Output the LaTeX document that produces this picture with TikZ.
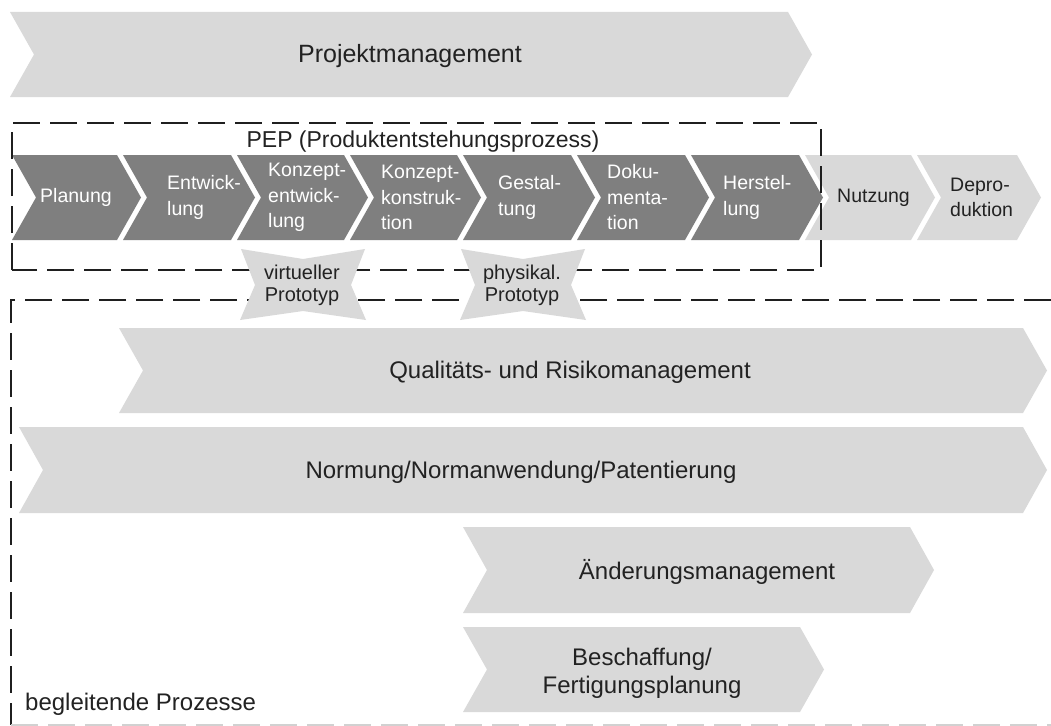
\documentclass[tikz,border=0pt]{standalone}
\usepackage{fontspec}
\setmainfont{Liberation Sans}
\definecolor{dk}{HTML}{7F7F7F}
\definecolor{lt}{HTML}{D9D9D9}
\definecolor{txt}{HTML}{222222}
\newcommand\mychev[5]{% style, left, right, top, bottom
  \fill[#1] (#2,#4) -- (#3,#4) -- ({#3+24},{(#4+#5)/2}) -- (#3,#5) -- (#2,#5) -- ({#2+24},{(#4+#5)/2}) -- cycle;}
\newcommand\myproto[1]{%
  \fill[lt] ({#1-62},249) -- (#1,259) -- ({#1+62},249) -- ({#1+48},285) -- ({#1+63},320) -- (#1,311) -- ({#1-63},320) -- ({#1-48},285) -- cycle;}
\begin{document}
\begin{tikzpicture}[x=1pt,y=-1pt,
  rowlbl/.style={font=\fontsize{19.5}{25.5}\selectfont, align=left, anchor=west, inner sep=0pt},
  dkl/.style={rowlbl, text=white},
  ltl/.style={rowlbl, text=txt},
  biglbl/.style={font=\fontsize{24}{28}\selectfont, text=txt, inner sep=0pt},
  protolbl/.style={font=\fontsize{20}{22}\selectfont, text=txt, align=center, inner sep=0pt},
  dashbox/.style={draw=black!88, line width=1.6pt, dash pattern=on 27pt off 10pt}]
\useasboundingbox (0,0) rectangle (1051,725);
\fill[white] (0,0) rectangle (1051,725);

% Projektmanagement
\mychev{lt}{10}{788}{12}{97}
\node[biglbl, font=\fontsize{25}{28}\selectfont, anchor=base] (pm) at (410,63) {Projektmanagement};

% PEP row
\mychev{dk}{12}{117}{155}{240}
\mychev{dk}{123}{231}{155}{240}
\mychev{dk}{237}{344}{155}{240}
\mychev{dk}{350}{457}{155}{240}
\mychev{dk}{463}{571}{155}{240}
\mychev{dk}{577}{685}{155}{240}
\mychev{dk}{691}{799}{155}{240}
\mychev{lt}{805}{911}{155}{240}
\mychev{lt}{917}{1017}{155}{240}

\node[dkl] (p1) at (40,197.5) {Planung};
\node[dkl] (p2) at (167,197.5) {Entwick-\\lung};
\node[dkl] (p3) at (268,197.5) {Konzept-\\entwick-\\lung};
\node[dkl] (p4) at (381,197.5) {Konzept-\\konstruk-\\tion};
\node[dkl] (p5) at (498,197.5) {Gestal-\\tung};
\node[dkl] (p6) at (607,197.5) {Doku-\\menta-\\tion};
\node[dkl] (p7) at (723,197.5) {Herstel-\\lung};
\node[ltl] (p8) at (837,197.5) {Nutzung};
\node[ltl] (p9) at (950,197.5) {Depro-\\duktion};

% PEP box
\draw[dashbox] (12,270) -- (12,123) -- (821,123) -- (821,270) -- cycle;
\node[biglbl, font=\fontsize{23}{26}\selectfont, anchor=base] (pep) at (423,147) {PEP (Produktentstehungsprozess)};

% begleitende Prozesse box
\draw[dashbox] (1051,300) -- (11,300) -- (11,725);
\draw[dashbox, draw=black!18, line width=1.2pt] (11,725) -- (1051,725);

% prototypes
\myproto{303}
\myproto{523}
\node[protolbl] (vp) at (302,285.5) {virtueller\\Prototyp};
\node[protolbl] (pp) at (522,285.5) {physikal.\\Prototyp};

% accompanying processes
\mychev{lt}{119}{1023}{328}{413}
\node[biglbl, anchor=base] (qr) at (570,378) {Qualitäts- und Risikomanagement};
\mychev{lt}{19}{1023}{427}{513}
\node[biglbl, anchor=base] (nn) at (521,478) {Normung/Normanwendung/Patentierung};
\mychev{lt}{463}{910}{527}{613}
\node[biglbl, anchor=base] (am) at (707,579) {Änderungsmanagement};
\mychev{lt}{463}{800}{627}{712}
\node[biglbl, align=center] (bf) at (642,673) {Beschaffung/\\Fertigungsplanung};

\node[biglbl, anchor=base west] (bp) at (25,710) {begleitende Prozesse};
\end{tikzpicture}
\end{document}
